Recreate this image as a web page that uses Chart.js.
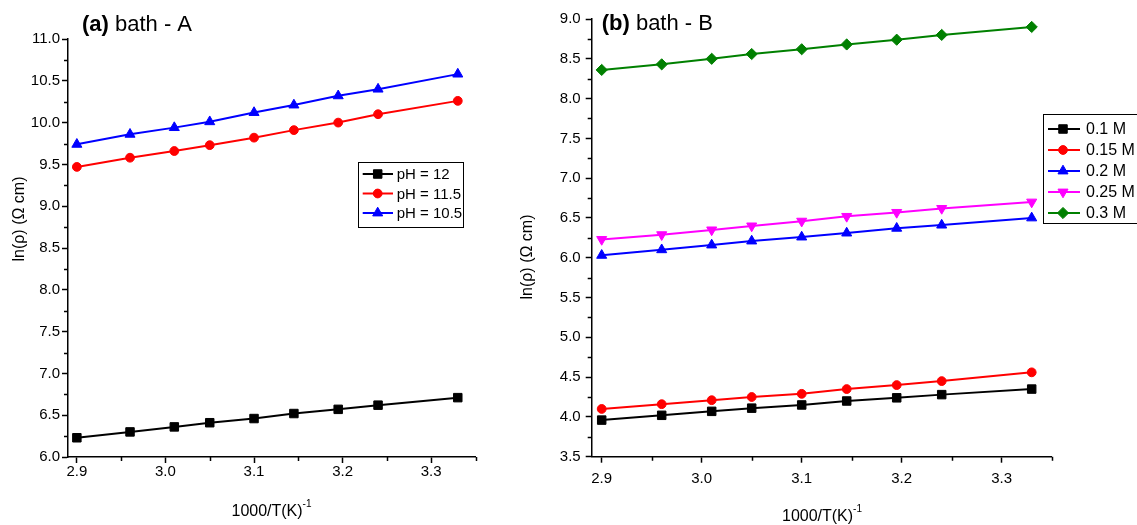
<!DOCTYPE html>
<html>
<head>
<meta charset="utf-8">
<script src="https://cdn.jsdelivr.net/npm/chart.js"></script>
<style>
html, body { margin: 0; padding: 0; background: #fff; }
#wrap { position: relative; width: 1137px; height: 525px; overflow: hidden; }
.panel { position: absolute; top: 0; height: 525px; }
#pa { left: 0; width: 520px; }
#pb { left: 520px; width: 617px; }
</style>
</head>
<body>
<div id="wrap">
  <div class="panel" id="pa"><canvas id="chartA"></canvas></div>
  <div class="panel" id="pb"><canvas id="chartB"></canvas></div>
</div>
<script>
// 1000/T values shared by both panels
const xValues = [2.90, 2.96, 3.01, 3.05, 3.10, 3.145, 3.195, 3.24, 3.33];

// (a) bath - A
const phLabels = ['pH = 12', 'pH = 11.5', 'pH = 10.5'];
const ph120 = [6.23, 6.30, 6.36, 6.41, 6.46, 6.52, 6.57, 6.62, 6.71];
const ph115 = [9.47, 9.58, 9.66, 9.73, 9.82, 9.91, 10.00, 10.10, 10.26];
const ph105 = [9.74, 9.86, 9.94, 10.01, 10.12, 10.21, 10.32, 10.40, 10.58];

// (b) bath - B
const molLabels = ['0.1 M', '0.15 M', '0.2 M', '0.25 M', '0.3 M'];
const m010 = [3.96, 4.02, 4.07, 4.11, 4.15, 4.20, 4.24, 4.28, 4.35];
const m015 = [4.10, 4.16, 4.21, 4.25, 4.29, 4.35, 4.40, 4.45, 4.56];
const m020 = [6.03, 6.10, 6.16, 6.21, 6.26, 6.31, 6.37, 6.41, 6.50];
const m025 = [6.23, 6.29, 6.35, 6.40, 6.46, 6.52, 6.57, 6.62, 6.70];
const m030 = [8.36, 8.43, 8.50, 8.56, 8.62, 8.68, 8.74, 8.80, 8.90];

const FONT = '"Liberation Sans", Arial, Helvetica, sans-serif';

function series(label, ys, color, style, radius, rot) {
    return {
        label: label,
        data: ys.map((y, i) => ({ x: xValues[i], y: y })),
        borderColor: color,
        backgroundColor: color,
        pointBackgroundColor: color,
        pointBorderColor: color,
        borderWidth: 2,
        pointStyle: style,
        pointRadius: radius,
        pointHoverRadius: radius,
        pointRotation: rot || 0,
        pointBorderWidth: 1,
        tension: 0,
        clip: false
    };
}

function isMajor(v, k) { return Math.abs(v * k - Math.round(v * k)) < 1e-6; }

// major ticks drawn by Chart.js, minor ones hidden here and redrawn shorter below
function tickCol(k) {
    return c => (c.tick && isMajor(c.tick.value, k)) ? '#000' : 'rgba(0,0,0,0)';
}

function scalesFor(c) {
    const axisFont = { family: FONT, size: 15 };
    return {
        x: {
            type: 'linear', min: 2.89, max: 3.35,
            afterFit: s => { s.height = c.xH; },
            border: { color: '#000', width: 1.5 },
            grid: { drawOnChartArea: false, drawTicks: true, tickLength: 6, tickColor: tickCol(10), tickWidth: 1.5 },
            ticks: {
                stepSize: 0.05, autoSkip: false, includeBounds: false, maxRotation: 0,
                color: '#000', font: axisFont, padding: c.xPad,
                callback: v => isMajor(v, 10) ? v.toFixed(1) : ''
            }
        },
        y: {
            type: 'linear', min: c.yMin, max: c.yMax,
            afterFit: s => { s.width = c.yW; },
            border: { color: '#000', width: 1.5 },
            grid: { drawOnChartArea: false, drawTicks: true, tickLength: 6, tickColor: tickCol(2), tickWidth: 1.5 },
            ticks: {
                stepSize: 0.25, autoSkip: false, includeBounds: false,
                color: '#000', font: axisFont, padding: c.yPad,
                callback: v => isMajor(v, 2) ? v.toFixed(1) : ''
            }
        }
    };
}

// panel title, axis titles, minor ticks and boxed legend
const deco = {
    id: 'deco',
    afterDraw(chart, args, o) {
        const ctx = chart.ctx;
        const xs = chart.scales.x, ys = chart.scales.y;
        ctx.save();

        // minor ticks
        ctx.strokeStyle = '#000';
        ctx.lineWidth = 1.5;
        ctx.beginPath();
        xs.ticks.forEach(t => {
            if (isMajor(t.value, 10)) return;
            const px = Math.round(xs.getPixelForValue(t.value)) + 0.5;
            ctx.moveTo(px, xs.top);
            ctx.lineTo(px, xs.top + 4);
        });
        ys.ticks.forEach(t => {
            if (isMajor(t.value, 2)) return;
            const py = Math.round(ys.getPixelForValue(t.value)) + 0.5;
            ctx.moveTo(ys.right, py);
            ctx.lineTo(ys.right - 4, py);
        });
        ctx.stroke();

        ctx.fillStyle = '#000';
        ctx.textAlign = 'left';
        ctx.textBaseline = 'alphabetic';
        ctx.font = 'bold 22px ' + FONT;
        ctx.fillText(o.tag, o.titleX, o.titleY);
        const tw = ctx.measureText(o.tag).width;
        ctx.font = '22px ' + FONT;
        ctx.fillText(o.rest, o.titleX + tw, o.titleY);

        // y title
        ctx.save();
        ctx.translate(o.yTitleX, o.yTitleY);
        ctx.rotate(-Math.PI / 2);
        ctx.font = '16px ' + FONT;
        ctx.textAlign = 'center';
        ctx.textBaseline = 'middle';
        ctx.fillText('ln(\u03C1) (\u03A9 cm)', 0, 0);
        ctx.restore();

        // x title with superscript
        ctx.font = '16px ' + FONT;
        const main = '1000/T(K)';
        const mw = ctx.measureText(main).width;
        ctx.font = '10px ' + FONT;
        const sw = ctx.measureText('-1').width;
        const x0 = o.xTitleX - (mw + sw) / 2;
        ctx.font = '16px ' + FONT;
        ctx.fillText(main, x0, o.xTitleY);
        ctx.font = '10px ' + FONT;
        ctx.fillText('-1', x0 + mw, o.xTitleY - 9);

        // legend
        const L = o.legend;
        ctx.fillStyle = '#fff';
        ctx.fillRect(L.x, L.y, L.w, L.h);
        ctx.strokeStyle = '#000';
        ctx.lineWidth = 1;
        ctx.strokeRect(L.x + 0.5, L.y + 0.5, L.w, L.h);
        chart.data.datasets.forEach((ds, i) => {
            const cy = L.y + L.first + i * L.step;
            ctx.strokeStyle = ds.borderColor;
            ctx.lineWidth = 2;
            ctx.beginPath();
            ctx.moveTo(L.x + L.l0, cy);
            ctx.lineTo(L.x + L.l1, cy);
            ctx.stroke();
            ctx.fillStyle = ds.pointBackgroundColor;
            ctx.strokeStyle = ds.pointBorderColor;
            ctx.lineWidth = 1;
            Chart.helpers.drawPoint(ctx, {
                pointStyle: ds.pointStyle, rotation: ds.pointRotation,
                radius: ds.pointRadius, borderWidth: 1
            }, L.x + L.mx, cy);
            ctx.fillStyle = '#000';
            ctx.font = L.size + 'px ' + FONT;
            ctx.textAlign = 'left';
            ctx.textBaseline = 'middle';
            ctx.fillText(ds.label, L.x + L.tx, cy + 1);
        });
        ctx.restore();
    }
};

new Chart(document.getElementById('chartA'), {
    type: 'line',
    data: {
        datasets: [
            series(phLabels[0], ph120, '#000000', 'rect', 6),
            series(phLabels[1], ph115, '#ff0000', 'circle', 4.4),
            series(phLabels[2], ph105, '#0000ff', 'triangle', 5.8)
        ]
    },
    options: {
        responsive: true,
        maintainAspectRatio: false,
        animation: false,
        layout: { padding: { top: 39, right: 44.5, left: 0, bottom: 0 } },
        scales: scalesFor({ yMin: 6, yMax: 11, yW: 68, xH: 68, xPad: 0, yPad: 2 }),
        plugins: {
            legend: { display: false },
            tooltip: { enabled: false },
            deco: {
                tag: '(a)', rest: ' bath - A', titleX: 82, titleY: 31,
                yTitleX: 20, yTitleY: 219, xTitleX: 271.5, xTitleY: 516,
                legend: { x: 358, y: 162, w: 105, h: 65, first: 12, step: 19.5, l0: 4.7, l1: 35, mx: 19.7, tx: 38.7, size: 15 }
            }
        }
    },
    plugins: [deco]
});

new Chart(document.getElementById('chartB'), {
    type: 'line',
    data: {
        datasets: [
            series(molLabels[0], m010, '#000000', 'rect', 6),
            series(molLabels[1], m015, '#ff0000', 'circle', 4.4),
            series(molLabels[2], m020, '#0000ff', 'triangle', 5.8),
            series(molLabels[3], m025, '#ff00ff', 'triangle', 5.8, 180),
            series(molLabels[4], m030, '#008000', 'rectRot', 5.6)
        ]
    },
    options: {
        responsive: true,
        maintainAspectRatio: false,
        animation: false,
        layout: { padding: { top: 19, right: 85.3, left: 0, bottom: 0 } },
        scales: scalesFor({ yMin: 3.5, yMax: 9, yW: 71.7, xH: 68.3, xPad: 7, yPad: 5 }),
        plugins: {
            legend: { display: false },
            tooltip: { enabled: false },
            deco: {
                tag: '(b)', rest: ' bath - B', titleX: 81.7, titleY: 30,
                yTitleX: 8, yTitleY: 257, xTitleX: 302, xTitleY: 521,
                legend: { x: 523, y: 114, w: 130, h: 109, first: 15, step: 21, l0: 5, l1: 37, mx: 20, tx: 43, size: 16 }
            }
        }
    },
    plugins: [deco]
});
</script>
</body>
</html>
